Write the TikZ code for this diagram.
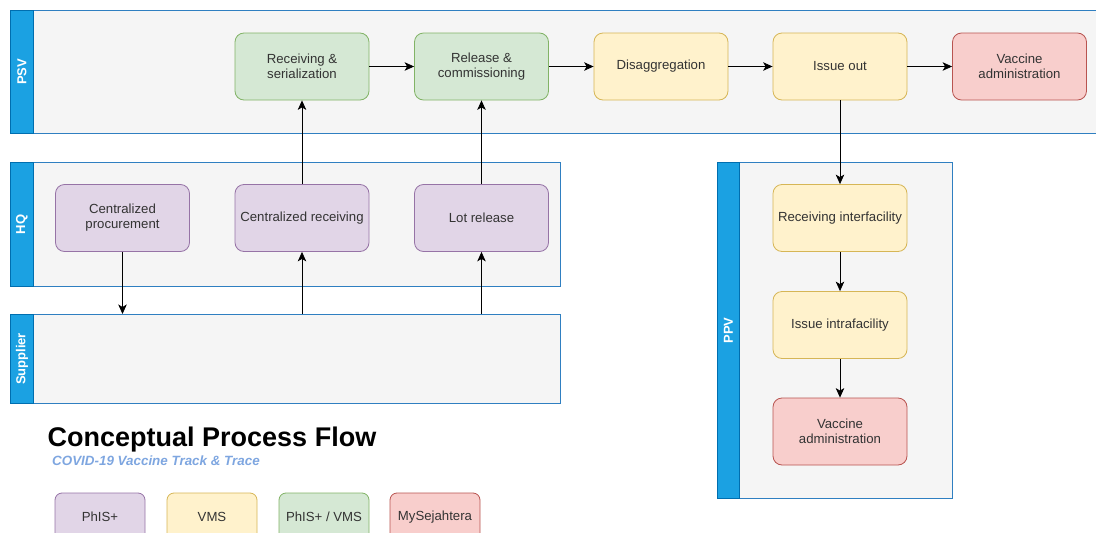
\documentclass[tikz,border=0pt]{standalone}
\usepackage{fontspec}
\setmainfont{Liberation Sans}
\usetikzlibrary{arrows.meta}

\definecolor{lanefill}{HTML}{F5F5F5}
\definecolor{laneline}{HTML}{2F7FC1}
\definecolor{headfill}{HTML}{1BA1E2}
\definecolor{headline}{HTML}{006EAF}
\definecolor{purpfill}{HTML}{E1D5E7}
\definecolor{purpline}{HTML}{9673A6}
\definecolor{yelfill}{HTML}{FFF2CC}
\definecolor{yelline}{HTML}{D6B656}
\definecolor{grnfill}{HTML}{D5E8D4}
\definecolor{grnline}{HTML}{82B366}
\definecolor{redfill}{HTML}{F8CECC}
\definecolor{redline}{HTML}{B85450}
\definecolor{boxtext}{HTML}{333333}
\definecolor{subtitle}{HTML}{7EA6E0}

\tikzset{
  lane/.style={draw=laneline, fill=lanefill, line width=0.9pt, rectangle, inner sep=0pt, anchor=north west},
  lanehead/.style={draw=headline, fill=headfill, line width=0.9pt, rectangle, inner sep=0pt, anchor=north west},
  lanelabel/.style={text=white, font=\fontsize{13}{15}\selectfont\bfseries, rotate=90},
  proc/.style={rectangle, rounded corners=9pt, line width=0.8pt, minimum width=134pt, minimum height=67pt,
    align=center, text=boxtext, font=\fontsize{13.2}{15}\selectfont, inner sep=2pt},
  purp/.style={proc, draw=purpline, fill=purpfill},
  yel/.style={proc, draw=yelline, fill=yelfill},
  grn/.style={proc, draw=grnline, fill=grnfill},
  red/.style={proc, draw=redline, fill=redfill},
  legend/.style={minimum width=90pt, minimum height=48pt, rounded corners=7pt},
  arr/.style={draw=black, line width=0.8pt, -{Stealth[length=9.5pt,width=8.5pt,inset=2.5pt]}}
}

\begin{document}
\begin{tikzpicture}[x=1pt,y=-1pt]
\useasboundingbox (0,0) rectangle (1096,533);

% swimlanes
\node[lane, minimum width=1095pt, minimum height=123pt] (psv) at (10,10) {};
\node[lanehead, minimum width=23pt, minimum height=123pt] (psvh) at (10,10) {};
\node[lanelabel] at (psvh.center) {PSV};

\node[lane, minimum width=550pt, minimum height=124pt] (hq) at (10,162) {};
\node[lanehead, minimum width=23pt, minimum height=124pt] (hqh) at (10,162) {};
\node[lanelabel] at (hqh.center) {HQ};

\node[lane, minimum width=550pt, minimum height=89pt] (sup) at (10,314) {};
\node[lanehead, minimum width=23pt, minimum height=89pt] (suph) at (10,314) {};
\node[lanelabel] at (suph.center) {Supplier};

\node[lane, minimum width=235pt, minimum height=336pt] (ppv) at (717,162) {};
\node[lanehead, minimum width=22pt, minimum height=336pt] (ppvh) at (717,162) {};
\node[lanelabel] at (ppvh.center) {PPV};

% PSV steps
\node[grn] (rs) at (302,66.5) {Receiving \&\\serialization};
\node[grn] (rc) at (481.5,66.5) {Release \&\\commissioning};
\node[yel] (dis) at (661,66.5) {Disaggregation};
\node[yel] (iss) at (840,66.5) {Issue out};
\node[red] (va1) at (1019.5,66.5) {Vaccine\\administration};

% HQ steps
\node[purp] (cp) at (122.5,218) {Centralized\\procurement};
\node[purp] (cr) at (302,218) {Centralized receiving};
\node[purp] (lr) at (481.5,218) {Lot release};

% PPV steps
\node[yel] (ri) at (840,218) {Receiving interfacility};
\node[yel] (ii) at (840,325) {Issue intrafacility};
\node[red] (va2) at (840,431.5) {Vaccine\\administration};

% connectors
\draw[arr] (rs) -- (rc);
\draw[arr] (rc) -- (dis);
\draw[arr] (dis) -- (iss);
\draw[arr] (iss) -- (va1);
\draw[arr] (cr) -- (rs);
\draw[arr] (lr) -- (rc);
\draw[arr] (cp) -- (cp |- sup.north);
\draw[arr] (cr |- sup.north) -- (cr);
\draw[arr] (lr |- sup.north) -- (lr);
\draw[arr] (iss) -- (ri);
\draw[arr] (ri) -- (ii);
\draw[arr] (ii) -- (va2);

% title
\node[anchor=west, inner sep=0pt, font=\fontsize{27}{30}\selectfont\bfseries] (title) at (47.5,440) {Conceptual Process Flow};
\node[anchor=west, inner sep=0pt, text=subtitle, font=\fontsize{13.4}{15}\selectfont\bfseries\itshape] (sub) at (52,461) {COVID-19 Vaccine Track \& Trace};

% legend
\node[purp, legend] (lg1) at (100,517) {PhIS+};
\node[yel, legend] (lg2) at (212,517) {VMS};
\node[grn, legend] (lg3) at (324,517) {PhIS+ / VMS};
\node[red, legend] (lg4) at (435,517) {MySejahtera};
\end{tikzpicture}
\end{document}
